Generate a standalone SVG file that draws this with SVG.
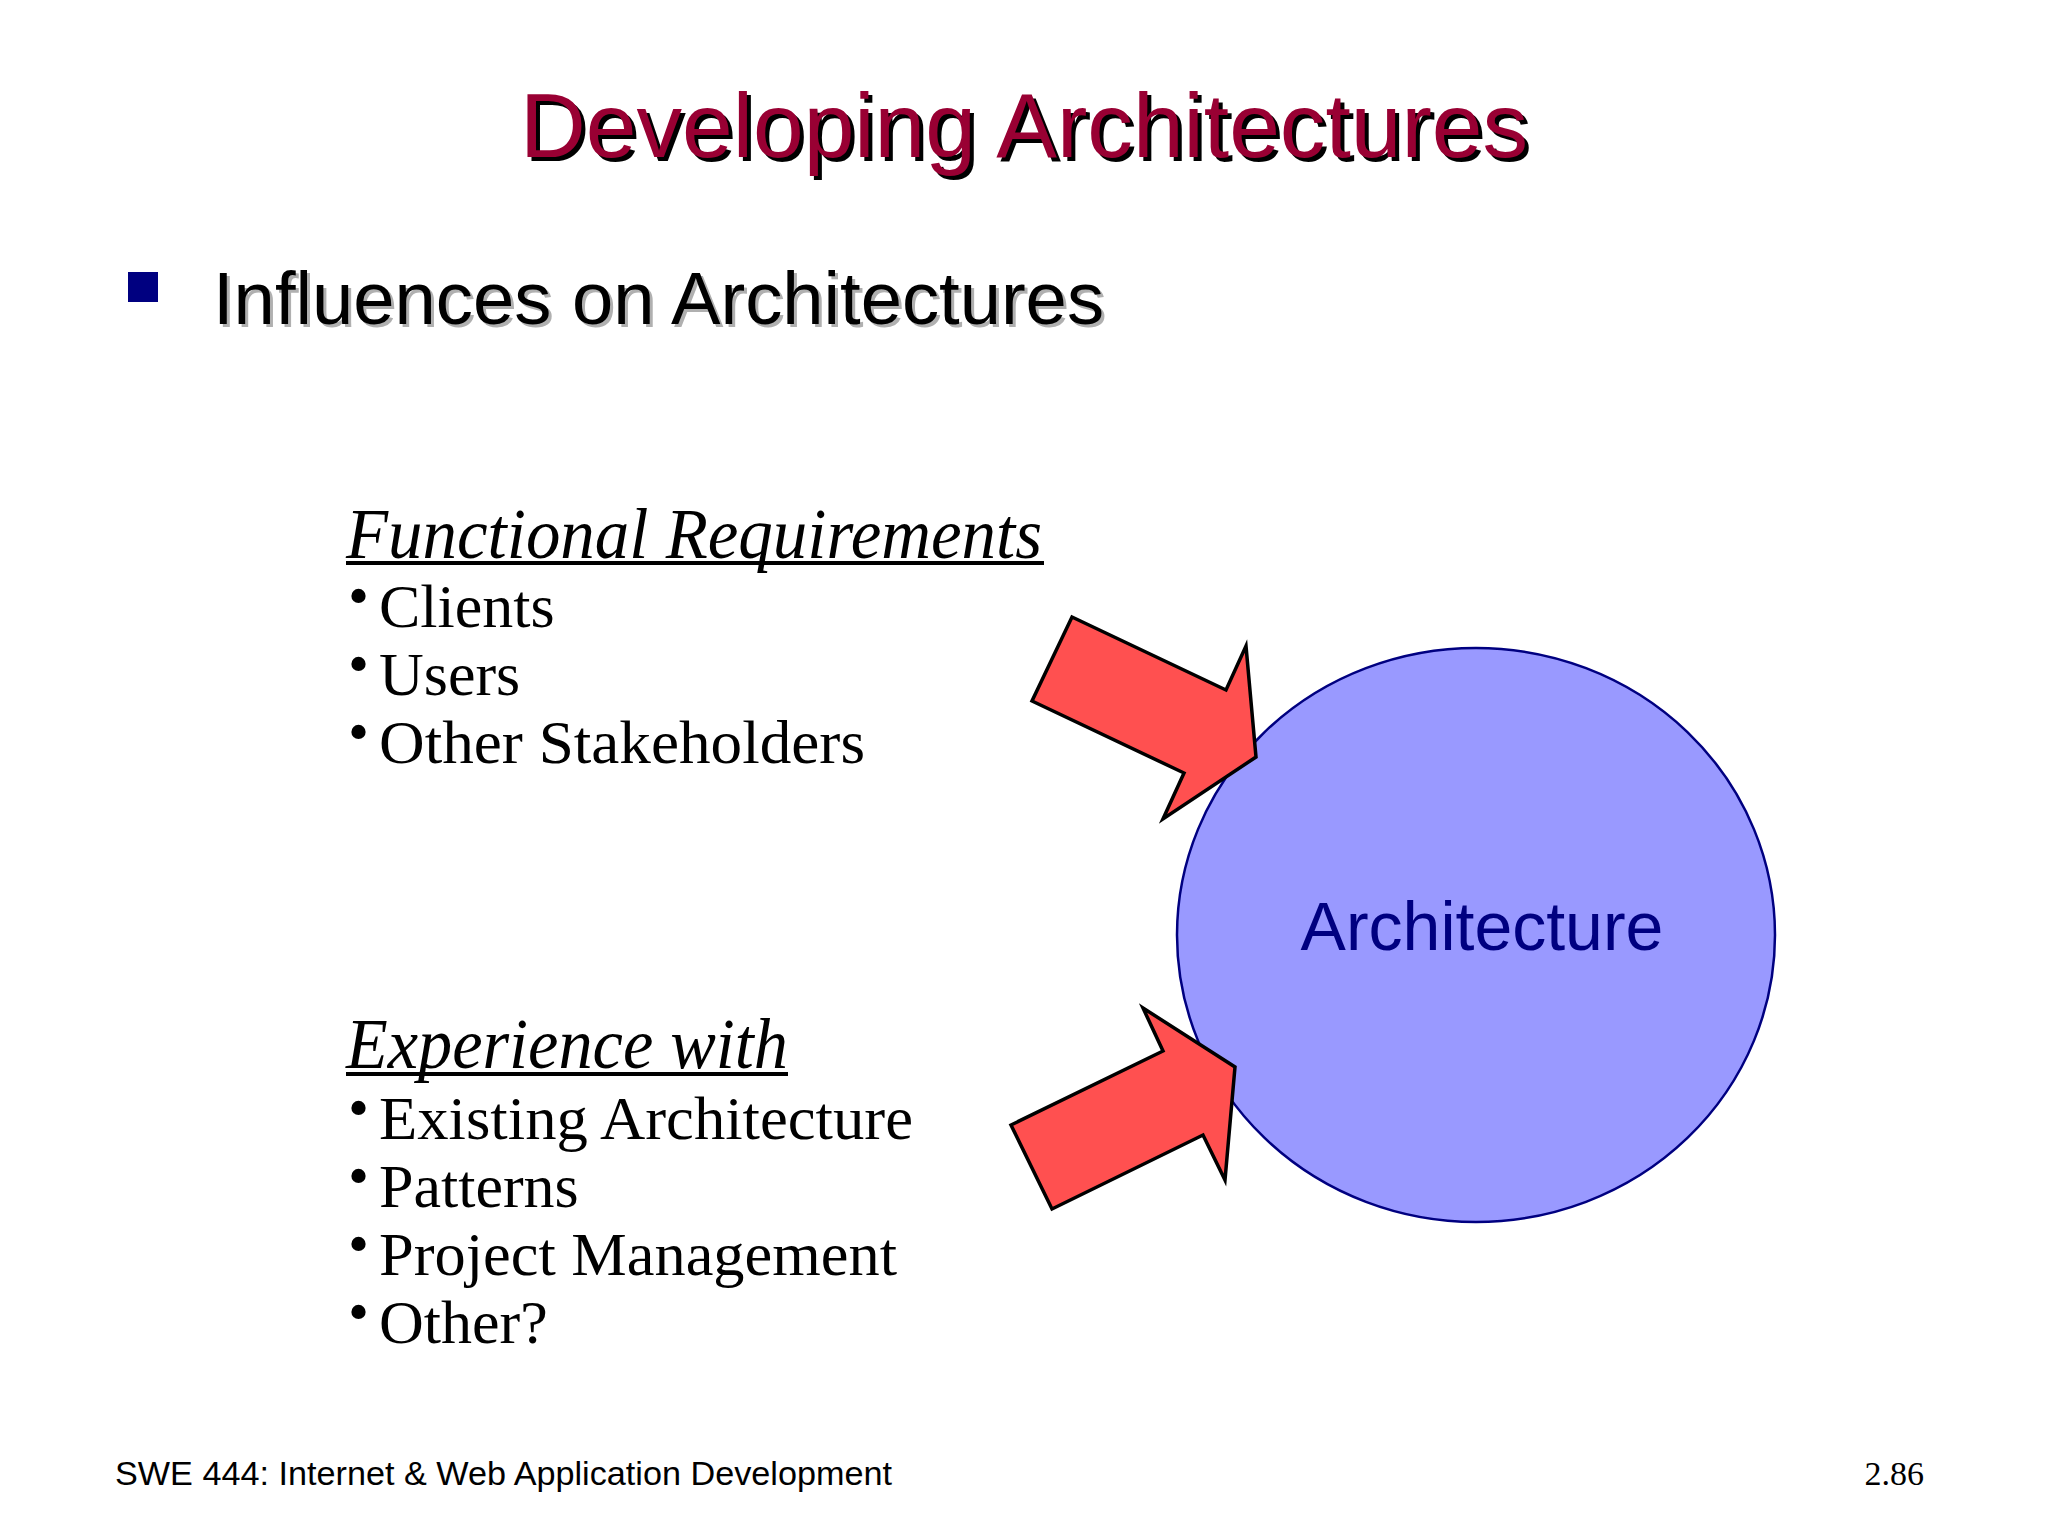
<svg xmlns="http://www.w3.org/2000/svg" width="2048" height="1536" viewBox="0 0 2048 1536">
<style>
.title{font-family:"Liberation Sans",Arial,sans-serif;font-size:90px;}
.sub{font-family:"Liberation Sans",Arial,sans-serif;font-size:74px;}
.head{font-family:"Liberation Serif","Times New Roman",serif;font-style:italic;font-size:72px;fill:#000;}
.item{font-family:"Liberation Serif","Times New Roman",serif;font-size:62px;fill:#000;}
.dot{font-size:60px;}
.foot{font-family:"Liberation Sans",Arial,sans-serif;font-size:34px;fill:#000;}
.num{font-family:"Liberation Serif","Times New Roman",serif;font-size:34px;fill:#000;}
.arrow{fill:#FF5050;stroke:#000;stroke-width:3.5;stroke-linejoin:miter;}
</style>
<rect width="2048" height="1536" fill="#fff"/>
<g id="title">
<text class="title" x="1028" y="161" text-anchor="middle" fill="#000" textLength="1008" lengthAdjust="spacingAndGlyphs">Developing Architectures</text>
<text class="title" x="1024" y="157" text-anchor="middle" fill="#990033" textLength="1008" lengthAdjust="spacingAndGlyphs">Developing Architectures</text>
</g>
<g id="subtitle">
<rect x="128" y="272" width="30" height="30" fill="#000080"/>
<text class="sub" x="216" y="327" fill="#b0b0b0" textLength="891" lengthAdjust="spacingAndGlyphs">Influences on Architectures</text>
<text class="sub" x="213" y="324" fill="#000" textLength="891" lengthAdjust="spacingAndGlyphs">Influences on Architectures</text>
</g>
<g id="functional-requirements">
<text class="head" x="346" y="558" textLength="696" lengthAdjust="spacingAndGlyphs">Functional Requirements</text>
<rect x="346" y="561" width="698" height="4" fill="#000"/>
<text class="item" x="348" y="627"><tspan class="dot" dy="-11">•</tspan><tspan x="379" dy="11">Clients</tspan></text>
<text class="item" x="348" y="695"><tspan class="dot" dy="-11">•</tspan><tspan x="379" dy="11">Users</tspan></text>
<text class="item" x="348" y="763"><tspan class="dot" dy="-11">•</tspan><tspan x="379" dy="11" textLength="486" lengthAdjust="spacingAndGlyphs">Other Stakeholders</tspan></text>
</g>
<g id="experience-with">
<text class="head" x="346" y="1068" textLength="442" lengthAdjust="spacingAndGlyphs">Experience with</text>
<rect x="346" y="1072" width="442" height="4" fill="#000"/>
<text class="item" x="348" y="1139"><tspan class="dot" dy="-11">•</tspan><tspan x="379" dy="11" textLength="534" lengthAdjust="spacingAndGlyphs">Existing Architecture</tspan></text>
<text class="item" x="348" y="1207"><tspan class="dot" dy="-11">•</tspan><tspan x="379" dy="11">Patterns</tspan></text>
<text class="item" x="348" y="1275"><tspan class="dot" dy="-11">•</tspan><tspan x="379" dy="11" textLength="518" lengthAdjust="spacingAndGlyphs">Project Management</tspan></text>
<text class="item" x="348" y="1343"><tspan class="dot" dy="-11">•</tspan><tspan x="379" dy="11">Other?</tspan></text>
</g>
<g id="architecture">
<ellipse cx="1476" cy="935" rx="299" ry="287" fill="#9999FF" stroke="#000080" stroke-width="2.5"/>
<text x="1482" y="950" text-anchor="middle" font-family="Liberation Sans, Arial, sans-serif" font-size="68" fill="#000080">Architecture</text>
</g>
<g id="connectors">
<polygon class="arrow" points="1072,617 1226,690 1246,646 1256,757 1163,819 1184,773 1032,701"/>
<polygon class="arrow" points="1011,1125 1163,1051 1143,1008 1235,1067 1225,1180 1203,1135 1052,1209"/>
</g>
<g id="footer">
<text class="foot" x="115" y="1485" textLength="777" lengthAdjust="spacingAndGlyphs">SWE 444: Internet &amp; Web Application Development</text>
<text class="num" x="1924" y="1485" text-anchor="end">2.86</text>
</g>
</svg>
